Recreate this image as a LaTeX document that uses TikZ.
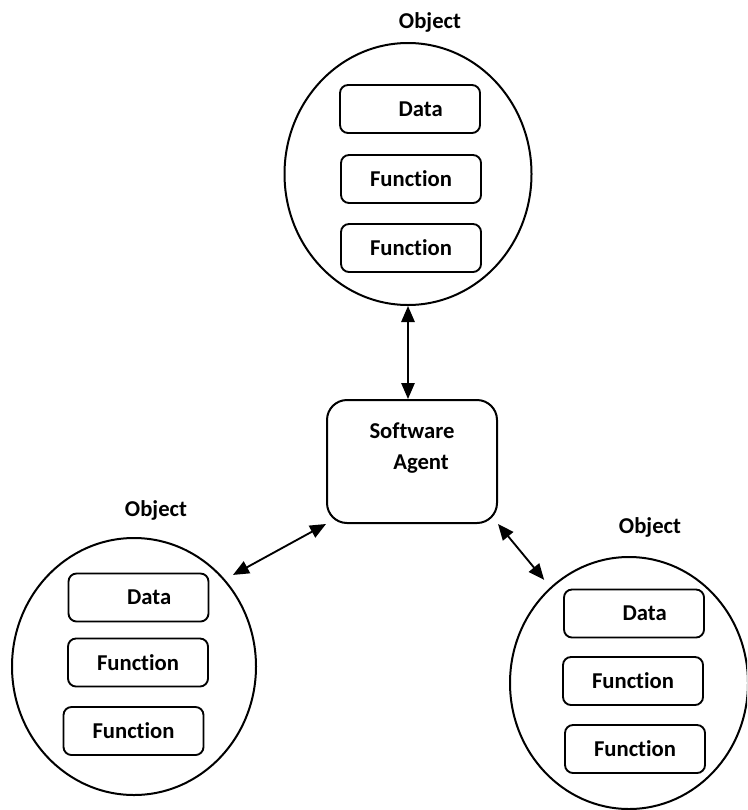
\documentclass[tikz,border=0pt]{standalone}
\usepackage{fontspec}
\setmainfont{Carlito}[Ligatures=NoCommon]
\usetikzlibrary{shapes.geometric,arrows.meta}

\tikzset{
  objshape/.style={draw, ellipse, line width=1.5pt, inner sep=0pt},
  partbox/.style={draw, rounded corners=6pt, line width=1.4pt, minimum width=105pt, minimum height=36pt, inner sep=0pt},
  agentbox/.style={draw, rounded corners=15pt, line width=1.5pt, minimum width=127.5pt, minimum height=92.25pt, align=center, inner sep=0pt},
  link/.style={arrows={Triangle[length=12pt,width=10pt]-Triangle[length=12pt,width=10pt]}, line width=1.4pt}
}

\begin{document}
\begin{tikzpicture}[x=0.75pt,y=-0.75pt, every node/.append style={font=\bfseries\fontsize{17}{23}\selectfont}]
    \useasboundingbox (0,0) rectangle (747,810);
    \clip (0,0) rectangle (747,810);

    \node[objshape, minimum width=185.25pt, minimum height=196.5pt] (top) at (408,174) {};
    \node[objshape, minimum width=183pt, minimum height=192.75pt] (left) at (134,666.5) {};
    \node[objshape, minimum width=178.5pt, minimum height=189pt] (right) at (629,683) {};

    \node (toptitle) at (430,22) {Object};
    \node (lefttitle) at (156,510) {Object};
    \node (righttitle) at (650,527) {Object};

    \node[partbox] (topdata) at (410,109) {\hspace*{16pt}Data};
    \node[partbox] (topfunca) at (411,179) {Function};
    \node[partbox] (topfuncb) at (411,248) {Function};

    \node[partbox] (leftdata) at (138.5,597.5) {\hspace*{16pt}Data};
    \node[partbox] (leftfunca) at (138,662.5) {Function};
    \node[partbox] (leftfuncb) at (133.5,731) {Function};

    \node[partbox] (rightdata) at (634,613.5) {\hspace*{16pt}Data};
    \node[partbox] (rightfunca) at (633,681) {Function};
    \node[partbox] (rightfuncb) at (635,749) {Function};

    \node[agentbox] (agent) at (412,461.5) {Software\\\hspace*{13.5pt}Agent\\\mbox{}};

    \draw[link] (top.south) -- (top.south |- agent.north);
    \draw[link] (agent.south west) -- ([xshift=9pt]left.north east);
    \draw[link] (agent.south east) -- ([yshift=10pt]right.north west);

\end{tikzpicture}
\end{document}
